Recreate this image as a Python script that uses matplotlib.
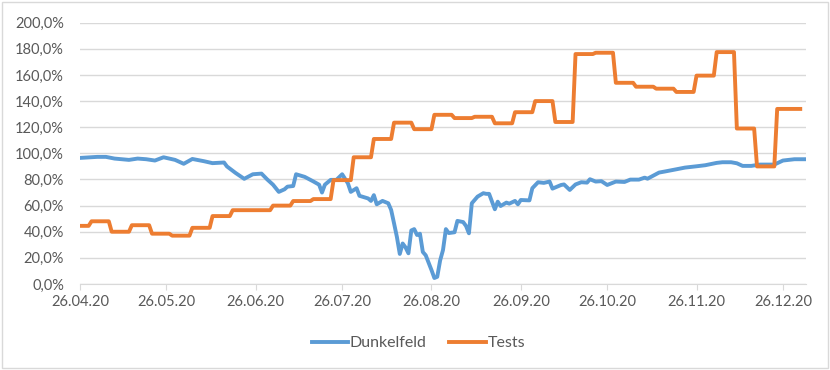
import numpy as np
import pandas as pd
import matplotlib
matplotlib.use("Agg")
import matplotlib.pyplot as plt
from matplotlib.ticker import FuncFormatter
from matplotlib.patches import Rectangle

plt.rcParams["font.family"] = ["Lato", "DejaVu Sans"]

start = pd.Timestamp("2020-04-26")

# Dunkelfeld: day offset from 26.04.20 and value in %
dunkel_day = [0, 6, 9, 12, 17, 20, 23, 26, 29, 33, 36, 39, 43, 46, 50, 51, 54, 57,
              60, 63, 65, 67, 69, 71, 72, 74, 75, 78, 81, 83, 84, 85, 87, 89, 91,
              93, 94, 96, 97, 100, 101, 102, 103, 105, 107, 108, 109, 110, 111,
              112, 113, 114, 115, 116, 117, 118, 119, 120, 122, 123, 124, 125,
              126, 127, 128, 130, 131, 133, 134, 135, 136, 138, 140, 141, 142,
              144, 145, 146, 148, 149, 151, 152, 153, 156, 157, 159, 161, 163,
              164, 167, 168, 170, 172, 174, 176, 177, 179, 181, 183, 186, 189,
              191, 194, 196, 197, 201, 203, 207, 210, 214, 217, 221, 223, 226,
              228, 230, 233, 236, 241, 244, 248, 252]
dunkel_val = [96.5, 97.3, 97.3, 96.0, 95.0, 96.0, 95.5, 94.5, 97.0, 95.0, 92.0,
              95.7, 94.0, 92.5, 93.0, 90.0, 85.0, 80.5, 84.0, 84.5, 80.0, 76.0,
              70.5, 72.5, 74.5, 75.0, 84.0, 82.0, 78.5, 76.0, 70.0, 76.0, 79.7,
              79.7, 84.0, 77.0, 70.5, 73.3, 67.5, 65.5, 63.6, 68.0, 61.0, 63.6,
              61.8, 56.7, 46.5, 36.0, 23.0, 31.0, 28.0, 23.5, 41.0, 42.0, 37.5,
              38.5, 24.5, 22.0, 10.7, 4.6, 5.5, 18.0, 26.0, 42.0, 39.0, 39.6,
              48.3, 47.4, 44.4, 38.8, 61.8, 66.9, 69.5, 69.0, 69.0, 57.2, 63.0,
              59.7, 62.3, 61.5, 63.6, 61.0, 64.3, 64.0, 73.3, 77.9, 77.4, 78.4,
              73.0, 75.8, 76.2, 72.0, 76.2, 77.9, 77.6, 80.2, 78.4, 78.7, 75.8,
              78.4, 78.1, 79.9, 79.9, 81.4, 80.6, 85.3, 86.1, 87.8, 89.1, 90.1,
              90.9, 92.7, 93.2, 93.2, 92.4, 90.4, 90.4, 91.4, 91.4, 94.5, 95.5,
              95.5]

# Tests: weekly values, day on which each new value starts
tests_day = [0, 4, 11, 18, 25, 32, 39, 46, 53, 67, 74, 81, 88, 95, 102, 109,
             116, 123, 130, 137, 144, 151, 158, 165, 172, 179, 186, 193, 200,
             207, 214, 221, 228, 235, 242]
tests_val = [44.5, 48.0, 40.0, 45.0, 38.5, 37.0, 43.0, 52.0, 56.5, 60.0, 63.5,
             65.0, 79.5, 97.0, 111.0, 123.5, 118.5, 129.5, 127.0, 128.0, 123.0,
             131.5, 140.0, 124.0, 176.0, 177.0, 154.0, 151.0, 149.5, 147.0,
             159.5, 177.5, 119.0, 90.0, 134.0]
tests_last_day = 250

tick_labels = ["26.04.20", "26.05.20", "26.06.20", "26.07.20", "26.08.20",
               "26.09.20", "26.10.20", "26.11.20", "26.12.20"]

blue = "#5B9BD5"
orange = "#ED7D31"
grid_c = "#D9D9D9"
txt_c = "#595959"

d_dates = start + pd.to_timedelta(dunkel_day, unit="D")

# each weekly value is drawn flat from its start day to the day before the next
t_x, t_y = [], []
ends = tests_day[1:] + [tests_last_day + 1]
for s, e, v in zip(tests_day, ends, tests_val):
    t_x += [s, e - 1]
    t_y += [v, v]
t_dates = start + pd.to_timedelta(t_x, unit="D")

fig = plt.figure(figsize=(8.3, 3.7), dpi=100)
fig.patches.append(Rectangle((0.003, 0.005), 0.994, 0.99, transform=fig.transFigure,
                             fill=False, edgecolor=grid_c, lw=1))
ax = fig.add_axes([80 / 830, 1 - 284 / 370, 726 / 830, 261.3 / 370])

ax.plot(d_dates, dunkel_val, color=blue, lw=2.8, label="Dunkelfeld",
        solid_joinstyle="round")
ax.plot(t_dates, t_y, color=orange, lw=2.8, label="Tests", solid_joinstyle="round")

ax.set_ylim(0, 200)
ax.set_yticks(np.arange(0, 201, 20))
ax.yaxis.set_major_formatter(FuncFormatter(lambda v, p: f"{v:.1f}%".replace(".", ",")))
ax.set_xlim(start, start + pd.Timedelta(days=252))
ticks = pd.to_datetime(tick_labels, format="%d.%m.%y")
ax.set_xticks(ticks)
ax.set_xticklabels(tick_labels)

ax.grid(axis="y", color=grid_c, lw=1)
ax.set_axisbelow(True)
for s in ["top", "right", "left"]:
    ax.spines[s].set_visible(False)
ax.spines["bottom"].set_color(grid_c)
ax.tick_params(axis="y", length=0, labelsize=10.5, labelcolor=txt_c, pad=11.5)
ax.tick_params(axis="x", length=4, color=grid_c, labelsize=10.5, labelcolor=txt_c, pad=4)

ax.legend(loc="upper center", bbox_to_anchor=(0.466, -0.145), ncol=2, frameon=False,
          fontsize=11.5, labelcolor=txt_c, handlelength=2.3, handletextpad=0.1,
          columnspacing=1.4)

plt.savefig("out.png", dpi=100)
